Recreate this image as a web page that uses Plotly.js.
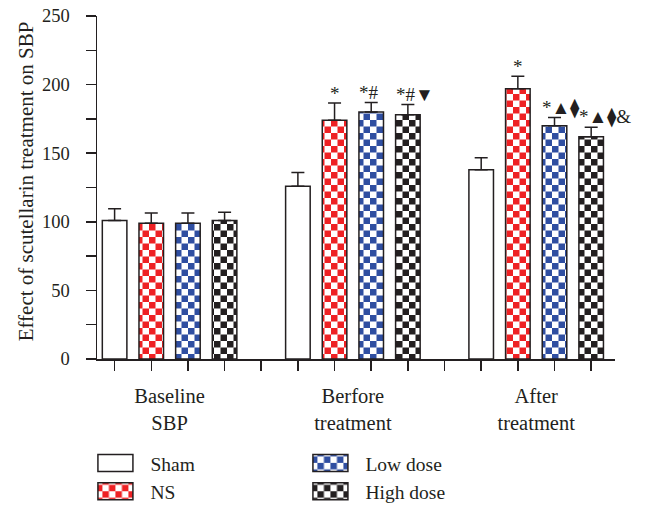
<!DOCTYPE html>
<html><head><meta charset="utf-8">
<script src="https://cdn.plot.ly/plotly-3.0.1.min.js"></script>
<style>html,body{margin:0;padding:0;background:#fff;} #chart{width:645px;height:506px;}</style>
</head><body><div id="chart"></div>
<script>
// ---- data ----
const categories = ['Baseline<br>SBP', 'Berfore<br>treatment', 'After<br>treatment'];
const seriesNames = ['Sham', 'NS', 'Low dose', 'High dose'];
const shamValues = [101, 126, 138];
const shamErrors = [8.5, 10, 8.7];
const nsValues = [99, 174, 197];
const nsErrors = [7.5, 12.5, 9];
const lowValues = [99, 180, 170];
const lowErrors = [7.5, 7, 6];
const highValues = [101, 178, 162];
const highErrors = [6, 7.5, 7];
const shamMarks = ['', '', ''];
const nsMarks = ['', '*', '*'];
const lowMarks = ['', '*#', '*\u25B2\u29EB'];
const highMarks = ['', '*#\u25BC', '*\u25B2\u29EB&'];
const yTickValues = [0, 25, 50, 75, 100, 125, 150, 175, 200, 225, 250];
const yTickLabels = ['0', '', '50', '', '100', '', '150', '', '200', '', '250'];
const yTitle = 'Effect of scutellarin treatment on SBP';

// ---- style ----
const ink = '#231f20';
const colors = ['#ffffff', '#ee2124', '#2f4ea1', '#231f20'];
const fontFamily = '"Liberation Serif", "Times New Roman", serif';
const groupStep = 5;
const barWidth = 0.67;
const legendOrder = [1, 3, 2, 4];

const values = [shamValues, nsValues, lowValues, highValues];
const errors = [shamErrors, nsErrors, lowErrors, highErrors];
const marks = [shamMarks, nsMarks, lowMarks, highMarks];
const posOf = (g, s) => g * groupStep + s;

const traces = seriesNames.map((name, s) => ({
  type: 'bar',
  name: name,
  x: categories.map((c, g) => posOf(g, s)),
  y: values[s],
  width: barWidth,
  marker: {
    color: colors[s],
    line: { color: ink, width: 1.5 },
    pattern: s === 0 ? { shape: '' } : { shape: '.', fillmode: 'replace', fgcolor: colors[s], bgcolor: '#ffffff', size: 13, solidity: 0.3 }
  },
  error_y: { type: 'data', array: errors[s], arrayminus: errors[s].map(() => 0), symmetric: false, color: ink, thickness: 1.5, width: 6.5 },
  legendrank: legendOrder[s],
  hoverinfo: 'skip'
}));

const annotations = [];
marks.forEach((arr, s) => arr.forEach((t, g) => {
  if (!t) return;
  const single = t.length === 1;
  annotations.push({
    x: single ? posOf(g, s) : posOf(g, s) - barWidth / 2,
    y: values[s][g] + errors[s][g],
    xref: 'x', yref: 'y',
    text: t, showarrow: false,
    xanchor: single ? 'center' : 'left', yanchor: 'bottom',
    xshift: single ? 0 : -1, yshift: -2, borderpad: 0,
    font: { family: fontFamily, size: 19, color: ink }
  });
}));

annotations.push({
  x: -0.137, y: 0.518, xref: 'paper', yref: 'paper',
  text: yTitle, textangle: -90, showarrow: false,
  xanchor: 'center', yanchor: 'middle',
  font: { family: fontFamily, size: 21, color: ink }
});

const layout = {
  width: 645, height: 506,
  margin: { l: 97, r: 30, t: 16, b: 147, pad: 0, autoexpand: false },
  paper_bgcolor: '#ffffff', plot_bgcolor: '#ffffff',
  barmode: 'overlay',
  showlegend: true,
  font: { family: fontFamily, size: 19, color: ink },
  xaxis: {
    range: [-0.48, 13.65],
    tickmode: 'array',
    tickvals: categories.map((c, g) => posOf(g, 1.5)),
    ticktext: categories,
    ticks: '',
    minor: { tick0: 0, dtick: 1, ticks: 'outside', ticklen: 10, tickwidth: 1.5, tickcolor: ink, showgrid: false },
    showline: true, linecolor: ink, linewidth: 1.5,
    showgrid: false, zeroline: false,
    automargin: false,
    ticklabelstandoff: 18,
    tickfont: { family: fontFamily, size: 20.5, color: ink },
    fixedrange: true
  },
  yaxis: {
    range: [0, 250],
    tickmode: 'array', tickvals: yTickValues, ticktext: yTickLabels,
    ticks: 'outside', ticklen: 10, tickwidth: 1.5, tickcolor: ink,
    showline: true, linecolor: ink, linewidth: 1.5,
    showgrid: false, zeroline: false,
    automargin: false,
    ticklabelstandoff: 12,
    tickfont: { family: fontFamily, size: 18.5, color: ink },
    fixedrange: true
  },
  legend: {
    orientation: 'h', x: -0.032, xanchor: 'left', y: -0.247, yanchor: 'top',
    itemwidth: 60,
    entrywidth: 140, entrywidthmode: 'pixels',
    traceorder: 'normal',
    font: { family: fontFamily, size: 19.5, color: ink },
    bgcolor: 'rgba(0,0,0,0)'
  },
  annotations: annotations
};

const gd = document.getElementById('chart');

function applyChecker() {
  const NS = 'http://www.w3.org/2000/svg';
  document.querySelectorAll('pattern').forEach(p => {
    let fg = null;
    p.querySelectorAll('circle, path').forEach(c => {
      fg = fg || c.getAttribute('fill') || (c.style && c.style.fill) || c.getAttribute('stroke');
    });
    if (!fg) return;
    const cell = 6.5, size = cell * 2;
    while (p.firstChild) p.removeChild(p.firstChild);
    p.setAttribute('width', size);
    p.setAttribute('height', size);
    p.removeAttribute('patternTransform');
    const rects = [[0, 0, size, size, '#ffffff'], [0, 0, cell, cell, fg], [cell, cell, cell, cell, fg]];
    rects.forEach(r => {
      const el = document.createElementNS(NS, 'rect');
      el.setAttribute('x', r[0]); el.setAttribute('y', r[1]);
      el.setAttribute('width', r[2]); el.setAttribute('height', r[3]);
      el.setAttribute('fill', r[4]);
      p.appendChild(el);
    });
  });
}

function fixLegend() {
  gd.querySelectorAll('.legend .legendpoints path').forEach(p => {
    p.setAttribute('d', 'M-17.5,-8.5H17.5V8.5H-17.5Z');
  });
}

Plotly.newPlot(gd, traces, layout, { staticPlot: true, displayModeBar: false }).then(() => {
  applyChecker();
  fixLegend();
});
</script>
</body></html>
